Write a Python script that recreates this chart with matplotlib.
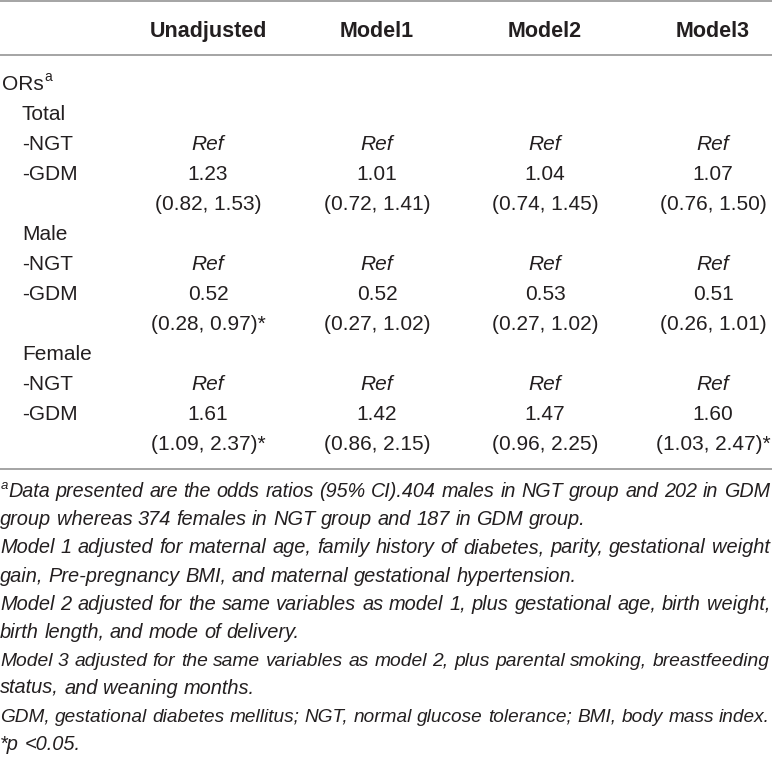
import matplotlib
matplotlib.use("Agg")
import matplotlib.pyplot as plt

W, H = 772, 758
FONT = "Liberation Sans"
INK = "#231f20"
RULE = "#8c8c8c"

columns = ["Unadjusted", "Model1", "Model2", "Model3"]
groups = ["Total", "Male", "Female"]
or_est = [[1.23, 1.01, 1.04, 1.07],
          [0.52, 0.52, 0.53, 0.51],
          [1.61, 1.42, 1.47, 1.60]]
ci_low = [[0.82, 0.72, 0.74, 0.76],
          [0.28, 0.27, 0.27, 0.26],
          [1.09, 0.86, 0.96, 1.03]]
ci_high = [[1.53, 1.41, 1.45, 1.50],
           [0.97, 1.02, 1.02, 1.01],
           [2.37, 2.15, 2.25, 2.47]]
significant = [[False, False, False, False],
               [True, False, False, False],
               [True, False, False, True]]

# footnote lines, (text, justified)
footnotes = [
    ("Data presented are the odds ratios (95% CI).404 males in NGT group and 202 in GDM", True),
    ("group whereas 374 females in NGT group and 187 in GDM group.", False),
    ("Model 1 adjusted for maternal age, family history of diabetes, parity, gestational weight", True),
    ("gain, Pre-pregnancy BMI, and maternal gestational hypertension.", False),
    ("Model 2 adjusted for the same variables as model 1, plus gestational age, birth weight,", True),
    ("birth length, and mode of delivery.", False),
    ("Model 3 adjusted for the same variables as model 2, plus parental smoking, breastfeeding", True),
    ("status, and weaning months.", False),
    ("GDM, gestational diabetes mellitus; NGT, normal glucose tolerance; BMI, body mass index.", True),
    ("*p <0.05.", False),
]

col_x = [208, 377, 545, 713]
row_step = 30
body_size = 15
head_size = 15.5
note_size = 14.4

fig = plt.figure(figsize=(W / 100, H / 100), dpi=100)
ax = fig.add_axes([0, 0, 1, 1])
ax.set_xlim(0, W)
ax.set_ylim(H, 0)
ax.axis("off")
fig.canvas.draw()
renderer = fig.canvas.get_renderer()


def txt(x, y, s, size=body_size, **kw):
    # y is the visual middle of capital letters; draw on the baseline below it
    return ax.text(x, y + size * 0.5, s, fontsize=size, family=FONT,
                   color=INK, va="baseline", **kw)


# rules
for y in (1, 55, 469):
    ax.plot([0, W], [y, y], color=RULE, lw=1.1, solid_capstyle="butt")

# header
for cx, name in zip(col_x, columns):
    txt(cx, 29, name, size=head_size, ha="center", fontweight="bold")

# body
y = 83
t = txt(2, y, "ORs")
w = t.get_window_extent(renderer).width
txt(2 + w + 1, y - 7, "a", size=10)
for g, name in enumerate(groups):
    y += row_step
    txt(22, y, name)
    y += row_step
    txt(22, y, "-NGT")
    for cx in col_x:
        txt(cx, y, "Ref", ha="center", style="italic")
    y += row_step
    txt(22, y, "-GDM")
    for j, cx in enumerate(col_x):
        txt(cx, y, f"{or_est[g][j]:.2f}", ha="center")
        star = "*" if significant[g][j] else ""
        txt(cx, y + row_step, f"({ci_low[g][j]:.2f}, {ci_high[g][j]:.2f}){star}", ha="center")
    y += row_step


def width_of(s, size):
    t = ax.text(0, 0, s, fontsize=size, family=FONT, style="italic")
    w = t.get_window_extent(renderer).width
    t.remove()
    return w


def draw_note(line, y, x0, x1, justify):
    words = line.split(" ")
    size = note_size
    natural = width_of(line, size)
    if natural > x1 - x0:
        size = size * (x1 - x0) / natural * 0.995
    widths = [width_of(wd, size) for wd in words]
    if justify and len(words) > 1:
        gap = (x1 - x0 - sum(widths)) / (len(words) - 1)
    else:
        gap = width_of("a b", size) - width_of("ab", size)
    x = x0
    for wd, wdw in zip(words, widths):
        ax.text(x, y + note_size * 0.5, wd, fontsize=size, family=FONT,
                style="italic", color=INK, va="baseline")
        x += wdw + gap


note_y = 490
note_step = 28.1
for i, (line, justify) in enumerate(footnotes):
    yy = note_y + i * note_step
    x0 = 0
    if i == 0:
        txt(1, yy - 6, "a", size=9.5, style="italic")
        x0 = 8
    draw_note(line, yy, x0, 770, justify)

fig.savefig("out.png", dpi=100)
